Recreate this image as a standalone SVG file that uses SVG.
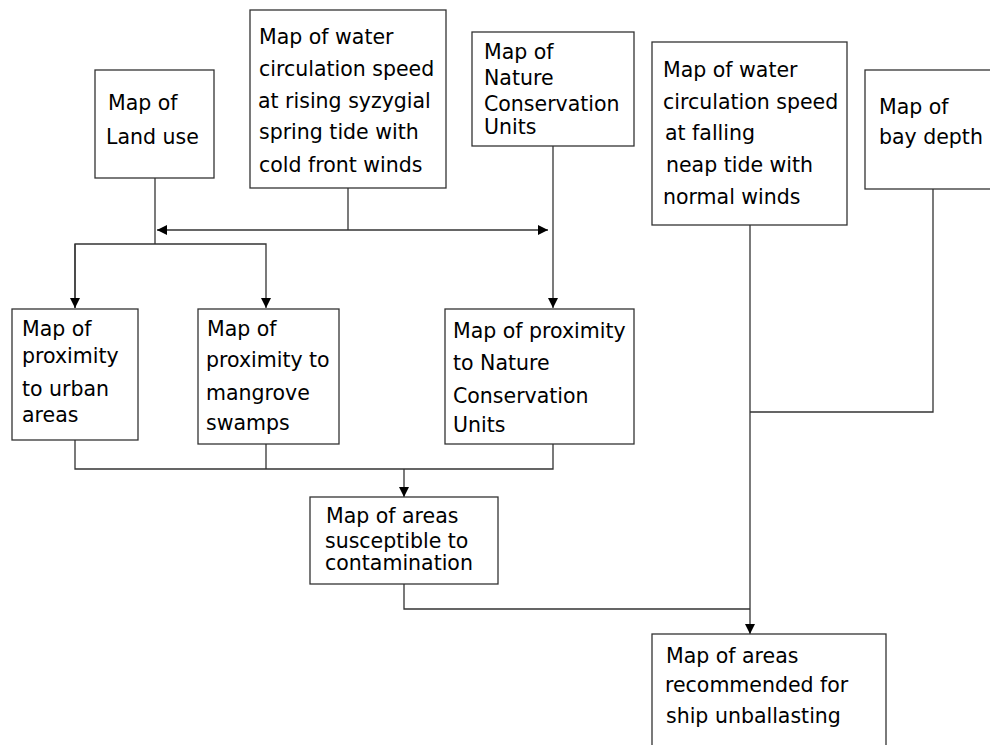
<svg xmlns="http://www.w3.org/2000/svg" width="990" height="745" viewBox="0 0 990 745">
<style>
.box{fill:#fff;stroke:#333;stroke-width:1.3}
.ln{fill:none;stroke:#333;stroke-width:1.3}
text{font-family:"DejaVu Sans",sans-serif;font-size:20.5px;fill:#000}
</style>
<defs>
<marker id="ah" markerWidth="10" markerHeight="10" refX="10" refY="5" orient="auto" markerUnits="userSpaceOnUse">
<path d="M0,0 L10,5 L0,10 Z" fill="#000"/>
</marker>
<marker id="ahs" markerWidth="10" markerHeight="10" refX="0" refY="5" orient="auto" markerUnits="userSpaceOnUse">
<path d="M10,0 L0,5 L10,10 Z" fill="#000"/>
</marker>
</defs>
<rect width="990" height="745" fill="#fff"/>
<g id="connectors">
<path class="ln" d="M155,178 V244"/>
<path class="ln" d="M348,188 V230"/>
<path class="ln" d="M157,230 H548" marker-start="url(#ahs)" marker-end="url(#ah)"/>
<path class="ln" d="M553,146 V308" marker-end="url(#ah)"/>
<path class="ln" d="M75,308 V244 H266 V308" marker-end="url(#ah)"/>
<path class="ln" d="M75,244 V308" marker-end="url(#ah)"/>
<path class="ln" d="M75,440 V469 H553 V444"/>
<path class="ln" d="M266,444 V469"/>
<path class="ln" d="M404,469 V497" marker-end="url(#ah)"/>
<path class="ln" d="M404,584 V609 H750"/>
<path class="ln" d="M750,225 V634" marker-end="url(#ah)"/>
<path class="ln" d="M933,189 V412 H750"/>
</g>
<g id="land-use">
<rect class="box" x="95" y="70" width="119" height="108"/>
<text x="108" y="110">Map of</text>
<text x="106" y="144">Land use</text>
</g>
<g id="water-rising">
<rect class="box" x="250" y="10" width="196" height="178"/>
<text x="259" y="44">Map of water</text>
<text x="259" y="76">circulation speed</text>
<text x="258" y="108">at rising syzygial</text>
<text x="259" y="139">spring tide with</text>
<text x="259" y="172">cold front winds</text>
</g>
<g id="nature-units">
<rect class="box" x="472" y="32" width="162" height="114"/>
<text x="484" y="59">Map of</text>
<text x="484" y="85">Nature</text>
<text x="484" y="111">Conservation</text>
<text x="484" y="134">Units</text>
</g>
<g id="water-falling">
<rect class="box" x="652" y="42" width="195" height="183"/>
<text x="663" y="77">Map of water</text>
<text x="663" y="109">circulation speed</text>
<text x="665" y="140">at falling</text>
<text x="666" y="172">neap tide with</text>
<text x="663" y="204">normal winds</text>
</g>
<g id="bay-depth">
<rect class="box" x="865" y="70" width="135" height="119"/>
<text x="879" y="114">Map of</text>
<text x="879" y="144">bay depth</text>
</g>
<g id="prox-urban">
<rect class="box" x="12" y="309" width="126" height="131"/>
<text x="22" y="336">Map of</text>
<text x="22" y="363">proximity</text>
<text x="22" y="396">to urban</text>
<text x="22" y="422">areas</text>
</g>
<g id="prox-mangrove">
<rect class="box" x="198" y="309" width="141" height="135"/>
<text x="207" y="336">Map of</text>
<text x="206" y="367">proximity to</text>
<text x="206" y="400">mangrove</text>
<text x="206" y="430">swamps</text>
</g>
<g id="prox-nature">
<rect class="box" x="445" y="309" width="189" height="135"/>
<text x="453" y="338">Map of proximity</text>
<text x="453" y="370">to Nature</text>
<text x="453" y="403">Conservation</text>
<text x="453" y="432">Units</text>
</g>
<g id="contamination">
<rect class="box" x="310" y="497" width="188" height="87"/>
<text x="326" y="523">Map of areas</text>
<text x="325" y="548">susceptible to</text>
<text x="325" y="570">contamination</text>
</g>
<g id="unballasting">
<rect class="box" x="652" y="634" width="234" height="120"/>
<text x="666" y="663">Map of areas</text>
<text x="665" y="692">recommended for</text>
<text x="666" y="723">ship unballasting</text>
</g>
</svg>
